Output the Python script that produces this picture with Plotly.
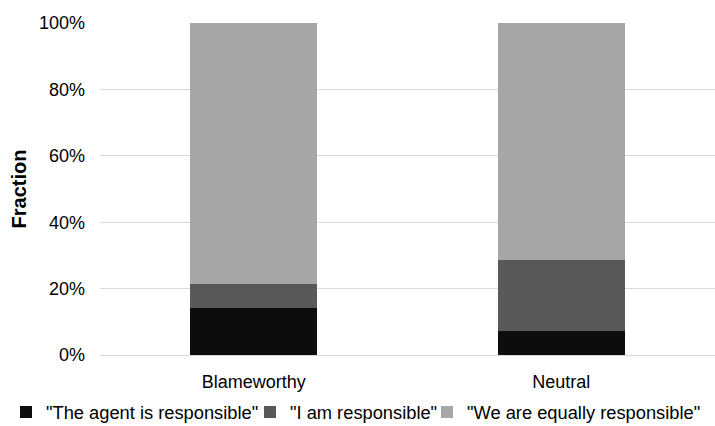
import plotly.graph_objects as go

categories = ["Blameworthy", "Neutral"]
series_names = ['"The agent is responsible"', '"I am responsible"', '"We are equally responsible"']
agent_responsible = [2 / 14, 1 / 14]
i_responsible = [1 / 14, 3 / 14]
equally_responsible = [11 / 14, 10 / 14]
colors = ["#0d0d0d", "#595959", "#a6a6a6"]
y_ticks = [0, 0.2, 0.4, 0.6, 0.8, 1.0]

FONT = "Liberation Sans, Arial, sans-serif"
W, H = 715, 426

# one legend per series so the three entries sit tightly on a single row
legend_ids = ["legend", "legend2", "legend3"]
legend_left_px = [6, 250, 427]

fig = go.Figure()
for name, vals, col, lid in zip(series_names,
                                [agent_responsible, i_responsible, equally_responsible],
                                colors, legend_ids):
    fig.add_trace(go.Bar(
        x=categories, y=vals, name=name, legend=lid,
        marker=dict(color=col, line=dict(width=0)),
    ))

legend_layout = {}
for lid, left in zip(legend_ids, legend_left_px):
    legend_layout[lid] = dict(
        orientation="h", xref="container", yref="container",
        x=left / W, xanchor="left", y=(H - 412) / H, yanchor="middle",
        font=dict(size=18.3), borderwidth=0, bgcolor="rgba(0,0,0,0)",
    )

fig.update_layout(
    barmode="stack",
    bargap=0.587,
    width=W, height=H,
    margin=dict(l=100, r=0, t=23, b=71, autoexpand=False),
    plot_bgcolor="white", paper_bgcolor="white",
    font=dict(family=FONT, size=18, color="#000000"),
    showlegend=True,
    xaxis=dict(showgrid=False, showline=False, ticks="", ticklabelstandoff=14),
    yaxis=dict(
        range=[0, 1], tickvals=y_ticks, tickformat=".0%",
        showgrid=True, gridcolor="#d9d9d9", gridwidth=1,
        zeroline=True, zerolinecolor="#d9d9d9", zerolinewidth=1,
        showline=False, ticks="", ticklabelstandoff=14,
        title=dict(text="<b>Fraction</b>", font=dict(size=20), standoff=6),
    ),
    **legend_layout,
)

fig.write_html("out.html")
